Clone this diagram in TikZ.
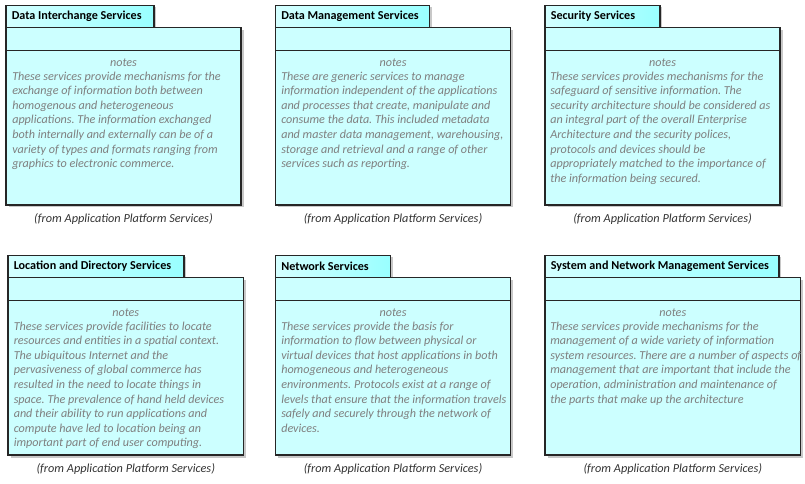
\documentclass[tikz,border=0pt]{standalone}
\usepackage{fontspec}
\setmainfont{Carlito}
\frenchspacing
\definecolor{bodyc}{HTML}{CCFFFF}
\definecolor{tabl}{HTML}{D4FFFF}
\definecolor{tabr}{HTML}{99FFFF}
\definecolor{linec}{HTML}{262626}
\definecolor{notec}{HTML}{7F7F7F}
\definecolor{shadc}{HTML}{C8C8C8}
\definecolor{capc}{HTML}{333333}
\tikzset{
  pkgline/.style={draw=linec, line width=0.8pt},
  shadowbox/.style={fill=shadc},
  titletext/.style={anchor=west, inner sep=0pt, font=\fontsize{9.1}{10.9}\selectfont\bfseries, text=black},
  notehead/.style={anchor=base, inner sep=0pt, font=\fontsize{9.1}{10.9}\selectfont\itshape, text=notec},
  notebody/.style={anchor=north west, inner sep=0pt, align=left, font=\fontsize{9.1}{10.9}\selectfont\itshape\frenchspacing, text=notec},
  captext/.style={anchor=center, inner sep=0pt, font=\fontsize{9.2}{11}\selectfont\itshape, text=capc},
}
% #1 id, #2 L, #3 R, #4 tab right, #5 tab top, #6 title, #7 text x, #8 body
\newcommand\pkgbox[8]{%
  \pgfmathsetmacro\bxtop{#5+22}%
  \pgfmathsetmacro\bxsep{#5+45}%
  \pgfmathsetmacro\bxbot{#5+199.5}%
  \pgfmathsetmacro\bxmid{(#2+#3)/2}%
  \fill[shadowbox] (#2+2.5,\bxtop+2.5) rectangle (#3+2.5,\bxbot+2.5);
  \fill[shadowbox] (#2+2,#5+2) rectangle (#4+2,\bxtop);
  \path[pkgline, left color=tabl, right color=tabr] (#2,#5) rectangle (#4,\bxtop);
  \path[pkgline, fill=bodyc] (#2,\bxtop) rectangle (#3,\bxbot);
  \draw[pkgline] (#2,\bxsep) -- (#3,\bxsep);
  \node[titletext] (title#1) at (#2+5.5,#5+11) {#6};
  \node[notehead] (notes#1) at (\bxmid,#5+60.8) {notes};
  \node[notebody] (body#1) at (#7,#5+64.4) {\strut#8};
  \node[captext] (cap#1) at (\bxmid,#5+213.5) {(from Application Platform Services)};
}
\begin{document}
\begin{tikzpicture}[x=0.75pt,y=-0.75pt]
\useasboundingbox (0,0) rectangle (805,484);
\pkgbox{a}{6}{241}{154}{5.5}{Data Interchange Services}{12}{These services provide mechanisms for the\\exchange of information both between\\homogenous and heterogeneous\\applications. The information exchanged\\both internally and externally can be of a\\variety of types and formats ranging from\\graphics to electronic commerce.}
\pkgbox{b}{275.5}{510.5}{429.5}{5.5}{Data Management Services}{281}{These are generic services to manage\\information independent of the applications\\and processes that create, manipulate and\\consume the data. This included metadata\\and master data management, warehousing,\\storage and retrieval and a range of other\\services such as reporting.}
\pkgbox{c}{545}{780}{660}{5.5}{Security Services}{550}{These services provides mechanisms for the\\safeguard of sensitive information. The\\security architecture should be considered as\\an integral part of the overall Enterprise\\Architecture and the security polices,\\protocols and devices should be\\appropriately matched to the importance of\\the information being secured.}
\pkgbox{d}{8}{243.5}{184}{255.5}{Location and Directory Services}{13.5}{These services provide facilities to locate\\resources and entities in a spatial context.\\The ubiquitous Internet and the\\pervasiveness of global commerce has\\resulted in the need to locate things in\\space. The prevalence of hand held devices\\and their ability to run applications and\\compute have led to location being an\\important part of end user computing.}
\pkgbox{e}{275.5}{510.5}{390.5}{255.5}{Network Services}{281}{These services provide the basis for\\information to flow between physical or\\virtual devices that host applications in both\\homogeneous and heterogeneous\\environments. Protocols exist at a range of\\levels that ensure that the information travels\\safely and securely through the network of\\devices.}
\pkgbox{f}{545}{800.5}{779}{255.5}{System and Network Management Services}{550}{These services provide mechanisms for the\\management of a wide variety of information\\system resources. There are a number of aspects of\\management that are important that include the\\operation, administration and maintenance of\\the parts that make up the architecture}
\end{tikzpicture}
\end{document}
